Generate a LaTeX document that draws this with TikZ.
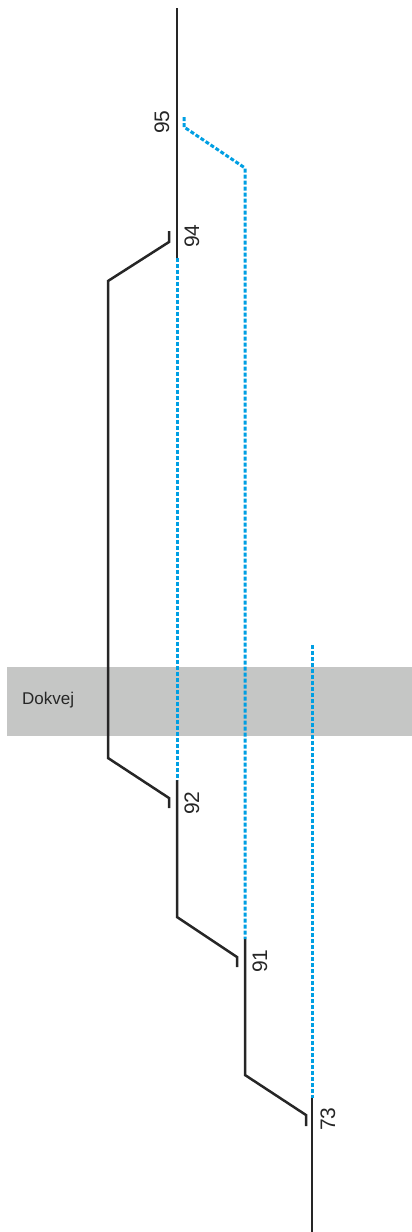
\documentclass[tikz,border=0pt]{standalone}
\usepackage{fontspec}
\setmainfont{Liberation Sans}
\usetikzlibrary{positioning,calc}
\definecolor{track}{RGB}{38,38,38}
\definecolor{route}{RGB}{0,159,227}
\definecolor{band}{RGB}{197,198,197}

\begin{document}
\begin{tikzpicture}[x=1pt, y=-1pt,
  rail/.style={draw=track, line width=2.5pt},
  plan/.style={draw=route, line width=3pt, dash pattern=on 4pt off 2pt},
  num/.style={font=\fontsize{21}{24}\selectfont, text=track, rotate=90, inner sep=0pt},
  area/.style={fill=band, draw=none},
  areatext/.style={font=\fontsize{17}{20}\selectfont, text=track, anchor=west, inner sep=0pt}
]
\useasboundingbox (0,0) rectangle (412,1232);

\fill[area] (7,667) rectangle (412,736);
\node[areatext] (dock) at (22,700) {Dokvej};

\coordinate (top) at (177,8);
\coordinate (sw94) at (177,258);
\coordinate (sw92) at (177,780);
\coordinate (kneeA) at (177,917);
\coordinate (sw91) at (245,939);
\coordinate (kneeB) at (245,1075);
\coordinate (sw73) at (312,1098);
\coordinate (bottom) at (312,1232);

\draw[rail] (top) -- (sw94);
\draw[rail] (169,231) -- (169,242) -- (108,281) -- (108,758) -- (169,798) -- (169,808);
\draw[rail] (sw92) -- (kneeA) -- (237,957) -- (237,967);
\draw[rail] (sw91) -- (kneeB) -- (306,1115) -- (306,1126);
\draw[rail] (sw73) -- (bottom);

\coordinate (s95) at (184,117);
\coordinate (end73) at (312,645);
\draw[plan] (sw94) -- (sw92);
\draw[plan] (s95) -- (184,127) -- (245,168) -- (sw91);
\draw[plan] (end73) -- (sw73);

\node[num] (n95) at (162,122) {95};
\node[num] (n94) at (192,236) {94};
\node[num] (n92) at (192,803) {92};
\node[num] (n91) at (260,961) {91};
\node[num] (n73) at (328,1119) {73};
\end{tikzpicture}
\end{document}
